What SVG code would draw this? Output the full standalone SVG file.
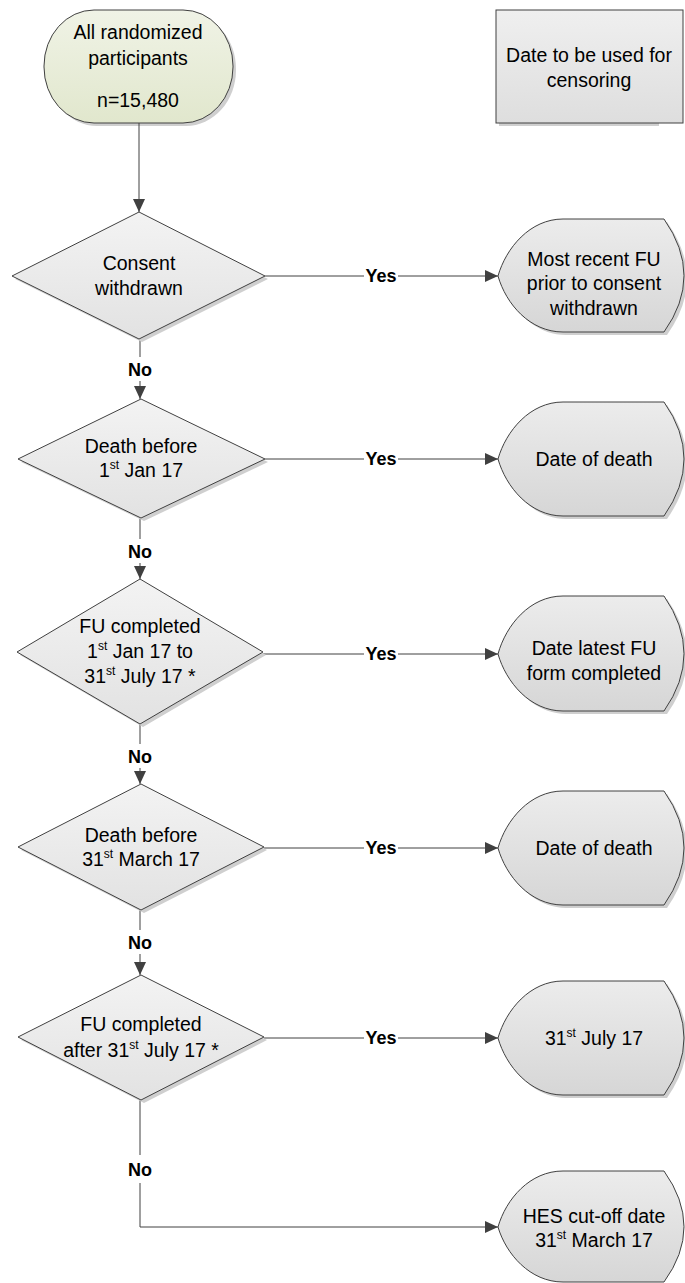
<svg xmlns="http://www.w3.org/2000/svg" width="685" height="1283" viewBox="0 0 685 1283">
<style>
text{font-family:"Liberation Sans",Arial,sans-serif;font-size:19.5px;fill:#000;text-anchor:middle}
.lbl{font-weight:bold;font-size:18px}
.sh{fill:#cfcfcf;stroke:none}
.dia{fill:url(#gDia);stroke:#404040;stroke-width:1}
.out{fill:url(#gOut);stroke:#404040;stroke-width:1}
.con{fill:none;stroke:#404040;stroke-width:1}
.bg{fill:#fff}
</style>
<defs>
<linearGradient id="gDia" x1="0" y1="0" x2="0" y2="1"><stop offset="0" stop-color="#f3f3f3"/><stop offset="1" stop-color="#e2e2e2"/></linearGradient>
<linearGradient id="gOut" x1="0" y1="0" x2="0" y2="1"><stop offset="0" stop-color="#ececec"/><stop offset="1" stop-color="#d6d6d6"/></linearGradient>
<linearGradient id="gStart" x1="0" y1="0" x2="0" y2="1"><stop offset="0" stop-color="#f0f3e6"/><stop offset="1" stop-color="#e1e7cd"/></linearGradient>
<linearGradient id="gLeg" x1="0" y1="0" x2="0" y2="1"><stop offset="0" stop-color="#efefef"/><stop offset="1" stop-color="#dedede"/></linearGradient>
<marker id="ah" markerWidth="13" markerHeight="12" refX="13" refY="6" orient="auto" markerUnits="userSpaceOnUse"><path d="M0,0 L13,6 L0,12 Z" fill="#404040"/></marker>
</defs>

<g id="start">
<rect class="sh" x="47" y="13" width="189" height="113" rx="50" ry="56"/>
<rect x="44" y="10" width="189" height="113" rx="50" ry="56" fill="url(#gStart)" stroke="#404040"/>
<text x="138" y="39">All randomized</text>
<text x="138" y="65">participants</text>
<text x="138" y="107">n=15,480</text>
</g>

<g id="legend">
<rect class="sh" x="499" y="13" width="160" height="113"/>
<rect x="496" y="10" width="187" height="113" fill="url(#gLeg)" stroke="#404040"/>
<text x="589" y="62">Date to be used for</text>
<text x="589" y="87">censoring</text>
</g>

<g id="connectors">
<line class="con" x1="139" y1="123" x2="139" y2="212" marker-end="url(#ah)"/>
<line class="con" x1="140" y1="339" x2="140" y2="399" marker-end="url(#ah)"/>
<line class="con" x1="140" y1="518" x2="140" y2="579" marker-end="url(#ah)"/>
<line class="con" x1="140" y1="724" x2="140" y2="784" marker-end="url(#ah)"/>
<line class="con" x1="140" y1="910" x2="140" y2="975" marker-end="url(#ah)"/>
<polyline class="con" points="140,1100 140,1227 498,1227" marker-end="url(#ah)"/>
<line class="con" x1="265" y1="276" x2="498" y2="276" marker-end="url(#ah)"/>
<line class="con" x1="265" y1="459" x2="498" y2="459" marker-end="url(#ah)"/>
<line class="con" x1="263" y1="654" x2="498" y2="654" marker-end="url(#ah)"/>
<line class="con" x1="264" y1="848" x2="498" y2="848" marker-end="url(#ah)"/>
<line class="con" x1="264" y1="1038" x2="498" y2="1038" marker-end="url(#ah)"/>
<rect class="bg" x="364" y="266" width="34" height="20"/>
<text class="lbl" x="381" y="282">Yes</text>
<rect class="bg" x="364" y="449" width="34" height="20"/>
<text class="lbl" x="381" y="465">Yes</text>
<rect class="bg" x="364" y="644" width="34" height="20"/>
<text class="lbl" x="381" y="660">Yes</text>
<rect class="bg" x="364" y="838" width="34" height="20"/>
<text class="lbl" x="381" y="854">Yes</text>
<rect class="bg" x="364" y="1028" width="34" height="20"/>
<text class="lbl" x="381" y="1044">Yes</text>
<rect class="bg" x="125" y="357" width="30" height="24"/>
<text class="lbl" x="140" y="376">No</text>
<rect class="bg" x="125" y="539" width="30" height="24"/>
<text class="lbl" x="140" y="558">No</text>
<rect class="bg" x="125" y="744" width="30" height="24"/>
<text class="lbl" x="140" y="763">No</text>
<rect class="bg" x="125" y="930" width="30" height="24"/>
<text class="lbl" x="140" y="949">No</text>
<rect class="bg" x="125" y="1155" width="30" height="28"/>
<text class="lbl" x="140" y="1176">No</text>
</g>

<g id="d1">
<polygon class="sh" points="142,215 268,279 142,342 15,279"/>
<polygon class="dia" points="139,212 265,276 139,339 12,276"/>
<text x="139" y="270">Consent</text>
<text x="139" y="295">withdrawn</text>
</g>
<g id="d2">
<polygon class="sh" points="144,402 268,462 144,521 21,462"/>
<polygon class="dia" points="141,399 265,459 141,518 18,459"/>
<text x="141" y="453">Death before</text>
<text x="141" y="477">1<tspan font-size="12" dy="-8">st</tspan><tspan dy="8"> Jan 17</tspan></text>
</g>
<g id="d3">
<polygon class="sh" points="143,582 266,655 143,727 20,655"/>
<polygon class="dia" points="140,579 263,652 140,724 17,652"/>
<text x="140" y="633">FU completed</text>
<text x="140" y="658">1<tspan font-size="12" dy="-8">st</tspan><tspan dy="8"> Jan 17 to</tspan></text>
<text x="140" y="683">31<tspan font-size="12" dy="-8">st</tspan><tspan dy="8"> July 17 *</tspan></text>
</g>
<g id="d4">
<polygon class="sh" points="144,787 267,850 144,913 21,850"/>
<polygon class="dia" points="141,784 264,847 141,910 18,847"/>
<text x="141" y="842">Death before</text>
<text x="141" y="866">31<tspan font-size="12" dy="-8">st</tspan><tspan dy="8"> March 17</tspan></text>
</g>
<g id="d5">
<polygon class="sh" points="144,978 267,1040 144,1103 21,1040"/>
<polygon class="dia" points="141,975 264,1037 141,1100 18,1037"/>
<text x="141" y="1031">FU completed</text>
<text x="141" y="1057">after 31<tspan font-size="12" dy="-8">st</tspan><tspan dy="8"> July 17 *</tspan></text>
</g>

<g id="o1">
<path class="sh" transform="translate(3,3)" d="M563,219 L664,219 Q704,276 664,332 L563,332 C530,332 506,304 498,276 C506,248 530,219 563,219 Z"/>
<path class="out" d="M563,219 L664,219 Q704,276 664,332 L563,332 C530,332 506,304 498,276 C506,248 530,219 563,219 Z"/>
<text x="594" y="266">Most recent FU</text>
<text x="594" y="290">prior to consent</text>
<text x="594" y="315">withdrawn</text>
</g>
<g id="o2">
<path class="sh" transform="translate(3,3)" d="M563,402 L664,402 Q704,459 664,516 L563,516 C530,516 506,487 498,459 C506,431 530,402 563,402 Z"/>
<path class="out" d="M563,402 L664,402 Q704,459 664,516 L563,516 C530,516 506,487 498,459 C506,431 530,402 563,402 Z"/>
<text x="594" y="466">Date of death</text>
</g>
<g id="o3">
<path class="sh" transform="translate(3,3)" d="M563,596 L664,596 Q704,654 664,711 L563,711 C530,711 506,682 498,654 C506,625 530,596 563,596 Z"/>
<path class="out" d="M563,596 L664,596 Q704,654 664,711 L563,711 C530,711 506,682 498,654 C506,625 530,596 563,596 Z"/>
<text x="594" y="655">Date latest FU</text>
<text x="594" y="680">form completed</text>
</g>
<g id="o4">
<path class="sh" transform="translate(3,3)" d="M563,791 L664,791 Q704,848 664,905 L563,905 C530,905 506,876 498,848 C506,820 530,791 563,791 Z"/>
<path class="out" d="M563,791 L664,791 Q704,848 664,905 L563,905 C530,905 506,876 498,848 C506,820 530,791 563,791 Z"/>
<text x="594" y="855">Date of death</text>
</g>
<g id="o5">
<path class="sh" transform="translate(3,3)" d="M563,981 L664,981 Q704,1038 664,1095 L563,1095 C530,1095 506,1066 498,1038 C506,1010 530,981 563,981 Z"/>
<path class="out" d="M563,981 L664,981 Q704,1038 664,1095 L563,1095 C530,1095 506,1066 498,1038 C506,1010 530,981 563,981 Z"/>
<text x="594" y="1045">31<tspan font-size="12" dy="-8">st</tspan><tspan dy="8"> July 17</tspan></text>
</g>
<g id="o6">
<path class="out" d="M563,1171 L664,1171 Q704,1227 664,1282 L563,1282 C530,1282 506,1254 498,1227 C506,1199 530,1171 563,1171 Z"/>
<text x="594" y="1223">HES cut-off date</text>
<text x="594" y="1247">31<tspan font-size="12" dy="-8">st</tspan><tspan dy="8"> March 17</tspan></text>
</g>
</svg>
